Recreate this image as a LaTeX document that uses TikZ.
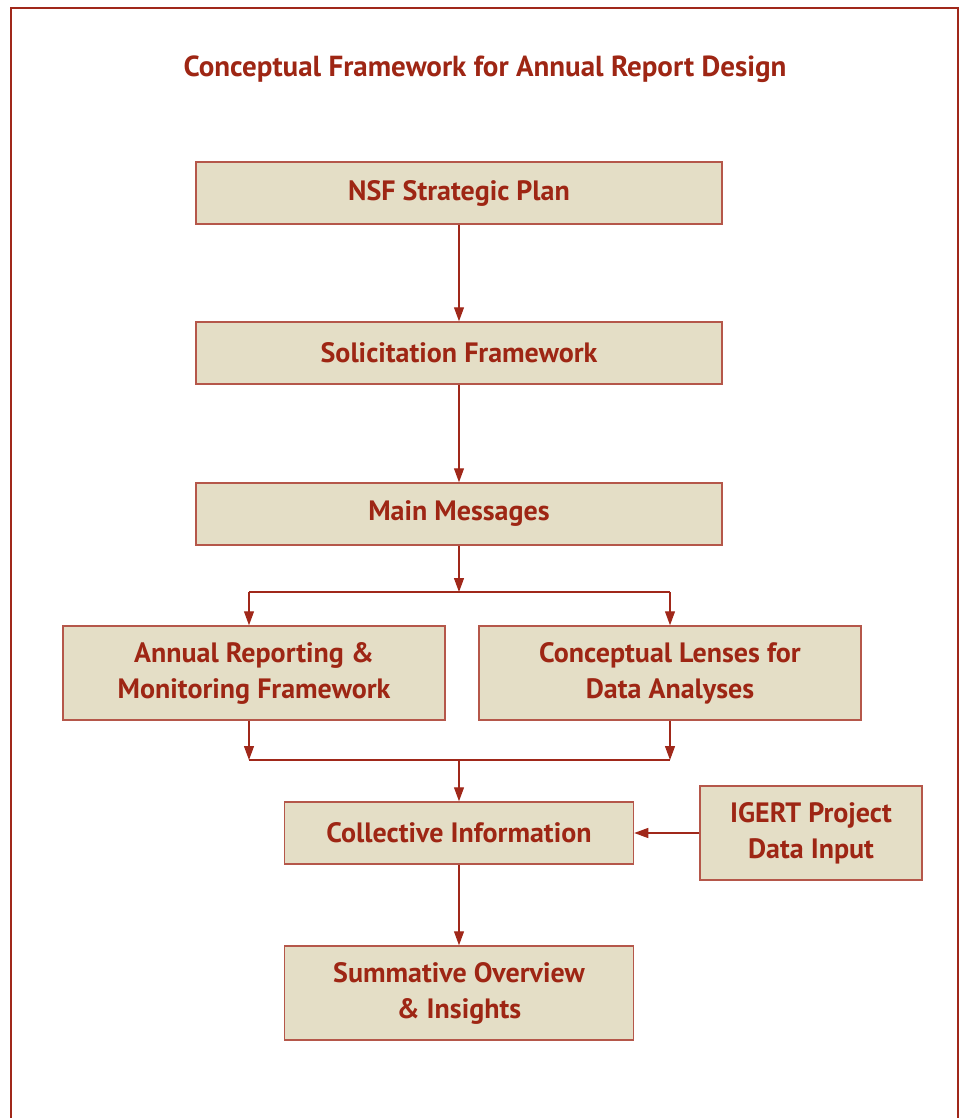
\documentclass[tikz,border=0pt]{standalone}
\usepackage{fontspec}
\setmainfont{PT Sans}
\usetikzlibrary{arrows.meta}
\definecolor{txtred}{HTML}{9E2614}
\definecolor{boxfill}{HTML}{E4DEC6}
\definecolor{boxline}{HTML}{B5574A}
\definecolor{arr}{HTML}{A0281A}
\begin{document}
\begin{tikzpicture}[x=1pt,y=-1pt,
  box/.style={draw=boxline, line width=1.5pt, fill=boxfill, text=txtred,
    font=\bfseries\fontsize{28}{36}\selectfont, align=center, inner sep=0pt},
  conn/.style={draw=arr, line width=1.2pt},
  arrw/.style={conn, -{Triangle[length=14pt,width=10pt]}}]
\useasboundingbox (0,0) rectangle (963,1118);
\draw[draw=arr, line width=2pt] (11,1120) -- (11,8) -- (958,8) -- (958,1120);
\node[text=txtred, font=\bfseries\fontsize{29}{32}\selectfont] (title) at (485,69) {Conceptual Framework for Annual Report Design};
\node[box, minimum width=526pt, minimum height=62pt] (nsf) at (459,193) {NSF Strategic Plan};
\node[box, minimum width=526pt, minimum height=62pt] (sol) at (459,353) {Solicitation Framework};
\node[box, minimum width=526pt, minimum height=62pt] (main) at (459,514) {Main Messages};
\node[box, minimum width=382pt, minimum height=94pt] (ann) at (254,673) {Annual Reporting \&\\Monitoring Framework};
\node[box, minimum width=382pt, minimum height=94pt] (lens) at (670,673) {Conceptual Lenses for\\Data Analyses};
\node[box, minimum width=349pt, minimum height=62pt] (coll) at (459,833) {Collective Information};
\node[box, minimum width=222pt, minimum height=94pt] (igert) at (811,833) {IGERT Project\\Data Input};
\node[box, minimum width=349pt, minimum height=94pt] (sum) at (459,993) {Summative Overview\\\& Insights};
\coordinate (split) at (459,592);
\coordinate (sl) at (249,592);
\coordinate (sr) at (670,592);
\coordinate (ml) at (249,760);
\coordinate (mr) at (670,760);
\coordinate (merge) at (459,760);
\draw[arrw] (nsf.south) -- (sol.north);
\draw[arrw] (sol.south) -- (main.north);
\draw[arrw] (main.south) -- (split);
\draw[conn] (sl) -- (sr);
\draw[arrw] (sl) -- (sl |- ann.north);
\draw[arrw] (sr) -- (sr |- lens.north);
\draw[arrw] (ml |- ann.south) -- (ml);
\draw[arrw] (mr |- lens.south) -- (mr);
\draw[conn] (ml) -- (mr);
\draw[arrw] (merge) -- (merge |- coll.north);
\draw[arrw] (igert.west) -- (coll.east);
\draw[arrw] (coll.south) -- (sum.north);
\end{tikzpicture}
\end{document}
